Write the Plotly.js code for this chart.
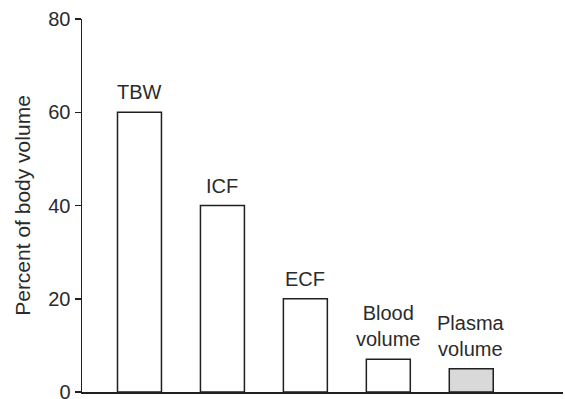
<!DOCTYPE html>
<html>
<head>
<meta charset="utf-8">
<script src="https://cdn.plot.ly/plotly-3.0.1.min.js"></script>
<style>html,body{margin:0;padding:0;background:#fff;}#chart{width:565px;height:399px;}</style>
</head>
<body>
<div id="chart"></div>
<script>
// Data
const categories = ["TBW", "ICF", "ECF", "Blood volume", "Plasma volume"];
const barLabels = ["TBW", "ICF", "ECF", "Blood<br>volume", "Plasma<br>volume"];
const percentOfBodyVolume = [60, 40, 20, 7, 5];
const barFills = ["#ffffff", "#ffffff", "#ffffff", "#ffffff", "#d9d9d9"];
const yTickValues = [0, 20, 40, 60, 80];

const FONT = "Liberation Sans, Arial, Helvetica, sans-serif";
const INK = "#231f20";
const TEXT = "#2b2b2b";

const trace = {
  type: "bar",
  x: categories.map((_, i) => i),
  y: percentOfBodyVolume,
  width: 0.53,
  marker: { color: barFills, line: { color: INK, width: 1.5 } },
  hoverinfo: "skip"
};

const annotations = categories.map((c, i) => ({
  x: i, y: percentOfBodyVolume[i], xref: "x", yref: "y",
  text: barLabels[i], showarrow: false,
  xanchor: "center", yanchor: "bottom", yshift: 7,
  font: { family: FONT, size: 20, color: TEXT }
}));

const layout = {
  width: 565, height: 399,
  margin: { l: 82, r: 2, t: 19, b: 7 },
  paper_bgcolor: "#fff", plot_bgcolor: "#fff",
  showlegend: false,
  bargap: 0,
  xaxis: {
    range: [-0.693, 5.106],
    showline: true, linecolor: INK, linewidth: 2,
    showticklabels: false, ticks: "", showgrid: false, zeroline: false,
    fixedrange: true
  },
  yaxis: {
    range: [0, 80],
    tickvals: yTickValues, ticktext: yTickValues.map(String),
    ticks: "outside", ticklen: 6, tickwidth: 1.5, tickcolor: INK,
    ticklabeloverflow: "allow",
    showline: true, linecolor: INK, linewidth: 1.5,
    showgrid: false, zeroline: false,
    tickfont: { family: FONT, size: 20, color: TEXT },
    title: { text: "Percent of body volume", font: { family: FONT, size: 21, color: TEXT }, standoff: 12 },
    automargin: false,
    fixedrange: true
  },
  annotations: annotations,
  font: { family: FONT, color: TEXT }
};

Plotly.newPlot("chart", [trace], layout, { staticPlot: true, displayModeBar: false });
</script>
</body>
</html>
